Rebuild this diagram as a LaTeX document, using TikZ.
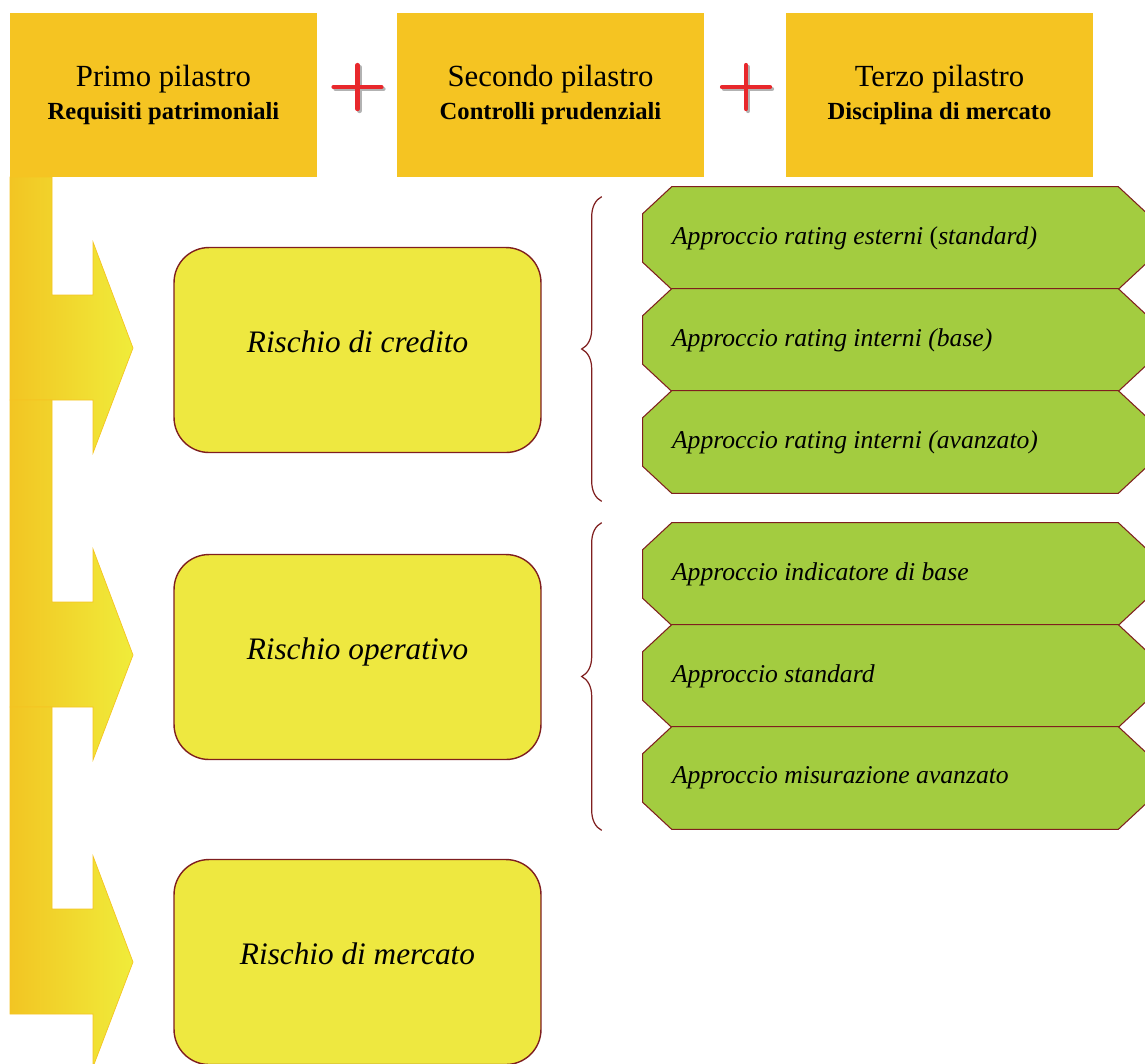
\documentclass[tikz,border=0pt]{standalone}
\usepackage{fontspec}
\setmainfont{Liberation Serif}
\usetikzlibrary{calc,decorations.pathreplacing}

\definecolor{pillarorange}{HTML}{F5C422}
\definecolor{riskyellow}{HTML}{EEE840}
\definecolor{approachgreen}{HTML}{A3CC40}
\definecolor{darkmaroon}{HTML}{7F1F1F}
\definecolor{plusred}{HTML}{E8282C}
\definecolor{arrowdark}{HTML}{F2C523}
\definecolor{arrowlight}{HTML}{F0EC3A}

\begin{document}
\begin{tikzpicture}[x=0.02cm,y=-0.02cm,
  pillar/.style={fill=pillarorange, minimum width=6.14cm, minimum height=3.28cm,
    inner sep=0pt, align=center, font=\fontsize{17.5}{18.7}\selectfont},
  riskbox/.style={draw=darkmaroon, line width=0.8pt, fill=riskyellow,
    rounded corners=0.7cm, minimum width=7.34cm, minimum height=4.1cm,
    text height=0.42cm, text depth=0.32cm,
    font=\fontsize{17.8}{20}\selectfont\itshape},
  approach/.style={minimum width=10.08cm, minimum height=2.04cm, inner sep=0pt},
  chamfer/.style={draw=darkmaroon, line width=0.6pt, fill=approachgreen},
  apptext/.style={anchor=west, inner sep=0pt, font=\fontsize{14.6}{16}\selectfont\itshape},
  riskbrace/.style={draw=darkmaroon, line width=0.7pt, decorate,
    decoration={brace, amplitude=0.4cm}},
  plussign/.style={plusred, line width=2.4pt, line cap=round},
  plusshade/.style={black!30, line width=2.4pt, line cap=round},
  bentarrow/.style={left color=arrowdark, right color=arrowlight,
    draw=pillarorange, line width=0.4pt}
]
\useasboundingbox (0,0) rectangle (1145,1063);

% =========================================================
% Pillars
% =========================================================
\node[pillar] (primo) at (163.5,95)
  {Primo pilastro\\ {\fontsize{14}{18.7}\selectfont\bfseries Requisiti patrimoniali}};
\node[pillar] (secondo) at (550.5,95)
  {Secondo pilastro\\ {\fontsize{14}{18.7}\selectfont\bfseries Controlli prudenziali}};
\node[pillar] (terzo) at (939.5,95)
  {Terzo pilastro\\ {\fontsize{14}{18.7}\selectfont\bfseries Disciplina di mercato}};

% plus signs
\foreach \px in {357.5,746} {
  \draw[plusshade] ({\px-24+2},89) -- ({\px+24+2},89) ({\px+2},67) -- ({\px+2},111);
  \draw[plussign] ({\px-24},87) -- ({\px+24},87) (\px,65) -- (\px,109);
}

% =========================================================
% Bent arrows
% =========================================================
\foreach \top/\tip in {177/348,400/655,707/962} {
  \draw[bentarrow] (10,\top) -- (52,\top) -- (52,{\tip-53}) -- (93,{\tip-53})
    -- (93,{\tip-106}) -- (133,\tip) -- (93,{\tip+105}) -- (93,{\tip+52})
    -- (10,{\tip+52}) -- cycle;
}

% =========================================================
% Risks
% =========================================================
\node[riskbox] (credito) at (357.5,350) {Rischio di credito};
\node[riskbox] (operativo) at (357.5,657) {Rischio operativo};
\node[riskbox] (mercato) at (357.5,962) {Rischio di mercato};

% approach slots
\node[approach] (crA) at (895,238) {};
\node[approach] (crB) at (895,340) {};
\node[approach] (crC) at (895,442) {};
\node[approach] (opA) at (895,574) {};
\node[approach] (opB) at (895,676) {};
\node[approach] (opC) at (895,778) {};

% chamfered boxes
\foreach \nm in {crA,crB,crC,opA,opB,opC} {
  \draw[chamfer] ($(\nm.north west)+(29,0)$) -- ($(\nm.north east)+(-29,0)$)
    -- ($(\nm.north east)+(0,27)$) -- ($(\nm.south east)+(0,-27)$)
    -- ($(\nm.south east)+(-29,0)$) -- ($(\nm.south west)+(29,0)$)
    -- ($(\nm.south west)+(0,-27)$) -- ($(\nm.north west)+(0,27)$) -- cycle;
}

% Credit risk approaches
\node[apptext] (crAtext) at ([xshift=0.58cm]crA.west) {Approccio rating esterni \textup{(}standard)};
\node[apptext] (crBtext) at ([xshift=0.58cm]crB.west) {Approccio rating interni (base)};
\node[apptext] (crCtext) at ([xshift=0.58cm]crC.west) {Approccio rating interni (avanzato)};

% Operational risk approaches
\node[apptext] (opAtext) at ([xshift=0.58cm]opA.west) {Approccio indicatore di base};
\node[apptext] (opBtext) at ([xshift=0.58cm]opB.west) {Approccio standard};
\node[apptext] (opCtext) at ([xshift=0.58cm]opC.west) {Approccio misurazione avanzato};

% braces
\coordinate (crTop) at ($(crA.north west)+(-41,10)$);
\coordinate (crBot) at ($(crC.south west)+(-41,8)$);
\coordinate (opTop) at ($(opA.north west)+(-41,0)$);
\coordinate (opBot) at ($(opC.south west)+(-41,1)$);
\draw[riskbrace] (crBot) -- (crTop);
\draw[riskbrace] (opBot) -- (opTop);

\end{tikzpicture}
\end{document}
